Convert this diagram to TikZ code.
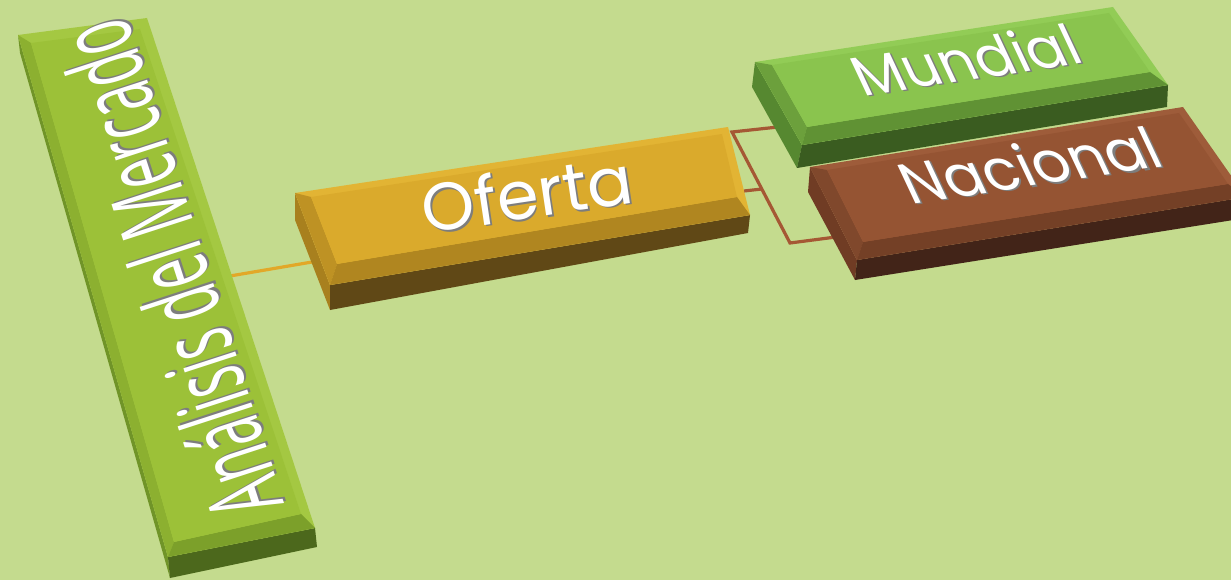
\documentclass[tikz,border=0pt]{standalone}
\usepackage{fontspec}
\setmainfont{Poppins}
\newfontfamily\barfont{Open Sans}

\definecolor{paper}{RGB}{196,219,142}
\definecolor{shade}{RGB}{125,125,125}
\definecolor{ofline}{RGB}{226,168,40}
\definecolor{naline}{RGB}{165,88,52}
% Analisis del Mercado
\definecolor{amtop}{RGB}{156,193,56}
\definecolor{amedge}{RGB}{164,200,66}
\definecolor{amleft}{RGB}{140,176,48}
\definecolor{ambottom}{RGB}{124,160,42}
\definecolor{amfront}{RGB}{76,104,28}
\definecolor{amside}{RGB}{112,148,40}
% Oferta
\definecolor{oftop}{RGB}{218,170,44}
\definecolor{ofedge}{RGB}{226,180,52}
\definecolor{ofleft}{RGB}{190,146,36}
\definecolor{ofbottom}{RGB}{176,134,32}
\definecolor{offront}{RGB}{96,72,22}
\definecolor{ofside}{RGB}{168,128,30}
% Mundial
\definecolor{mutop}{RGB}{138,196,78}
\definecolor{muedge}{RGB}{146,204,86}
\definecolor{muleft}{RGB}{108,160,60}
\definecolor{mubottom}{RGB}{96,146,52}
\definecolor{mufront}{RGB}{58,92,32}
\definecolor{muside}{RGB}{86,136,48}
% Nacional
\definecolor{natop}{RGB}{149,84,51}
\definecolor{naedge}{RGB}{158,92,58}
\definecolor{naleft}{RGB}{128,72,44}
\definecolor{nabottom}{RGB}{116,64,38}
\definecolor{nafront}{RGB}{66,36,24}
\definecolor{naside}{RGB}{112,60,36}

\newcommand{\embossed}[1]{\leavevmode\rlap{\kern1.5pt\raisebox{-1.5pt}{\color{shade}#1}}#1}

\begin{document}
\begin{tikzpicture}[x=1pt, y=-1pt,
    lbl/.style={text=white, inner sep=0pt, font=\fontsize{60}{70}\selectfont},
    link/.style={line width=3.2pt, line join=miter}
]
    \useasboundingbox (0,0) rectangle (1231,580);
    \clip (0,0) rectangle (1231,580);
    \fill[paper] (0,0) rectangle (1231,580);

    % connectors first, the boxes sit on them
    \coordinate (am-out) at (230,276);
    \coordinate (of-in) at (312,262);
    \coordinate (of-out) at (744,191);
    \coordinate (fork-top) at (732,132);
    \coordinate (fork-mid) at (762,189);
    \coordinate (fork-bot) at (790,243);
    \coordinate (mu-in) at (778,127);
    \coordinate (na-in) at (836,237);
    \draw[link, ofline] (am-out) -- (of-in);
    \draw[link, naline] (mu-in) -- (fork-top) -- (fork-bot) -- (na-in);
    \draw[link, naline] (of-out) -- (fork-mid);

    % Analisis del Mercado
    \fill[amside] (18,35) -- (168,557) -- (170,578) -- (20,53) -- cycle;
    \fill[amfront] (168,557) -- (315,528) -- (317,547) -- (170,578) -- cycle;
    \fill[amedge] (18,35) -- (147,18) -- (315,528) -- (168,557) -- cycle;
    \fill[amleft] (18,35) -- (31,43) -- (174,542) -- (168,557) -- cycle;
    \fill[ambottom] (168,557) -- (174,542) -- (301,514) -- (315,528) -- cycle;
    \fill[amtop] (31,43) -- (140,29) -- (301,514) -- (174,542) -- cycle;
    \node[lbl, font=\barfont\fontsize{60}{70}\selectfont, rotate=108] (analisis) at (170,270)
        {\resizebox{515pt}{78pt}{\embossed{Análisis del Mercado}}};

    % Oferta
    \fill[ofside] (295,193) -- (330,285) -- (330,310) -- (295,220) -- cycle;
    \fill[offront] (330,285) -- (750,215) -- (748,233) -- (330,310) -- cycle;
    \fill[ofedge] (295,193) -- (728,127) -- (750,215) -- (330,285) -- cycle;
    \fill[ofleft] (295,193) -- (311,197) -- (337,264) -- (330,285) -- cycle;
    \fill[ofbottom] (330,285) -- (337,264) -- (737,197) -- (750,215) -- cycle;
    \fill[oftop] (311,197) -- (722,134) -- (737,197) -- (337,264) -- cycle;
    \node[lbl, rotate=8.5] (oferta) at (527,194)
        {\resizebox{212pt}{!}{\embossed{Oferta}}};

    % Mundial
    \fill[muside] (755,62) -- (802,145) -- (797,168) -- (752,87) -- cycle;
    \fill[mufront] (802,145) -- (1168,85) -- (1167,107) -- (797,168) -- cycle;
    \fill[muedge] (755,62) -- (1113,7) -- (1168,85) -- (802,145) -- cycle;
    \fill[muleft] (755,62) -- (772,65) -- (807,127) -- (802,145) -- cycle;
    \fill[mubottom] (802,145) -- (807,127) -- (1150,72) -- (1168,85) -- cycle;
    \fill[mutop] (772,65) -- (1109,13) -- (1150,72) -- (807,127) -- cycle;
    \node[lbl, rotate=8.5, xslant=-0.3] (mundial) at (966,60)
        {\resizebox{225pt}{!}{\embossed{Mundial}}};

    % Nacional
    \fill[naside] (810,167) -- (857,260) -- (855,280) -- (808,192) -- cycle;
    \fill[nafront] (857,260) -- (1246,197) -- (1246,218) -- (855,280) -- cycle;
    \fill[naedge] (810,167) -- (1183,107) -- (1246,197) -- (857,260) -- cycle;
    \fill[naleft] (810,167) -- (827,170) -- (863,242) -- (857,260) -- cycle;
    \fill[nabottom] (857,260) -- (863,242) -- (1228,184) -- (1246,197) -- cycle;
    \fill[natop] (827,170) -- (1179,113) -- (1228,184) -- (863,242) -- cycle;
    \node[lbl, rotate=8.5, xslant=-0.3] (nacional) at (1030,165)
        {\resizebox{258pt}{!}{\embossed{Nacional}}};
\end{tikzpicture}
\end{document}
